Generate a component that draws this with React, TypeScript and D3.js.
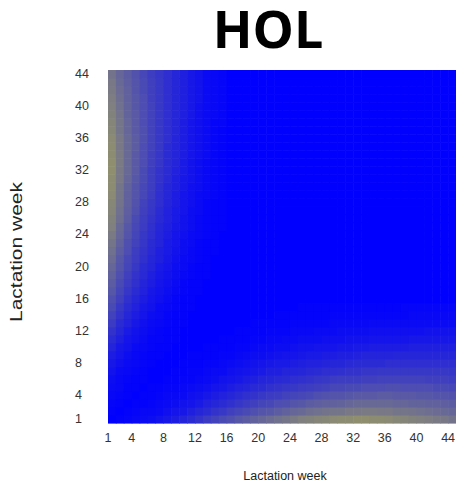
import React from "react";
import * as d3 from "d3";

// Lactation weeks (categories on both axes)
const weeks: number[] = d3.range(1, 45);
const xTickWeeks: number[] = [1, 4, 8, 12, 16, 20, 24, 28, 32, 36, 40, 44];
const yTickWeeks: number[] = [1, 4, 8, 12, 16, 20, 24, 28, 32, 36, 40, 44];

// Symmetric matrix (0 = blue, 100 = yellow).
// Row k holds the values for the pair (early week a = k+1, later week b = a..44).
// Pairs whose earlier week is beyond 15 are all 0 (pure blue).
const row01 = [0,1,2,3,4,5,7,9,11,14,17,20,23,26,29,31,34,36,38,40,42,44,46,48,50,51,52,53,54,55,55,56,56,55,55,54,53,52,51,50,49,48,47,45];
const row02 = [0,1,2,3,3,4,6,8,9,12,15,17,20,22,25,27,29,31,33,34,36,38,40,41,43,44,45,46,46,47,47,48,48,47,47,46,46,45,44,43,42,41,40];
const row03 = [0,1,1,2,3,4,5,7,8,10,13,15,17,19,21,23,25,27,28,30,31,33,34,36,37,38,38,39,40,41,41,41,41,41,40,40,39,39,38,38,37,36];
const row04 = [0,1,1,2,3,3,4,6,7,9,11,13,15,17,19,20,22,23,24,26,27,28,29,31,32,33,33,34,35,35,35,36,36,35,35,35,34,34,33,33,32];
const row05 = [0,1,1,2,2,3,4,5,6,8,9,11,13,14,16,17,19,20,21,22,23,24,25,26,28,28,29,29,30,30,30,31,31,30,30,30,30,29,29,28];
const row06 = [0,0,1,1,2,2,3,4,5,7,8,9,11,12,14,15,16,17,18,19,20,21,22,23,24,24,24,25,25,26,26,26,26,26,26,25,25,25,24];
const row07 = [0,0,1,1,2,2,3,4,4,6,7,8,9,10,12,12,14,14,15,16,17,18,18,19,20,20,21,21,22,22,22,22,22,22,22,22,22,21];
const row08 = [0,0,1,1,1,2,2,3,4,5,6,7,8,9,10,10,11,12,13,13,14,15,15,16,17,17,17,17,18,18,18,18,18,18,18,18,18];
const row09 = [0,0,1,1,1,1,2,2,3,4,5,5,6,7,8,8,9,10,10,11,11,12,12,13,14,14,14,14,15,15,15,15,15,15,15,15];
const row10 = [0,0,0,1,1,1,1,2,2,3,4,4,5,5,6,7,7,8,8,8,9,9,10,10,11,11,11,11,11,12,12,12,12,12,12];
const row11 = [0,0,0,0,1,1,1,1,2,2,3,3,4,4,5,5,5,6,6,6,7,7,7,8,8,8,8,8,9,9,9,9,9,9];
const row12 = [0,0,0,0,0,1,1,1,1,2,2,2,3,3,3,4,4,4,5,5,5,5,6,6,6,6,6,6,6,7,7,7,7];
const row13 = [0,0,0,0,0,0,1,1,1,1,1,2,2,2,2,2,3,3,3,3,3,4,4,4,4,4,4,4,4,4,4,4];
const row14 = [0,0,0,0,0,0,0,0,1,1,1,1,1,1,1,2,2,2,2,2,2,2,2,2,2,3,3,3,3,3,3];
const row15 = [0,0,0,0,0,0,0,0,0,0,1,1,1,1,1,1,1,1,1,1,1,1,1,2,2,2,2,2,2,2];
const earlyRows: number[][] = [row01,row02,row03,row04,row05,row06,row07,row08,row09,row10,row11,row12,row13,row14,row15];

const title = "HOL";
const axisLabel = "Lactation week";

function cellValue(i: number, j: number): number {
  const a = Math.min(i, j);
  const b = Math.max(i, j);
  const row = earlyRows[a - 1];
  if (!row) return 0;
  const v = row[b - a];
  return v === undefined ? 0 : v;
}

export default function App() {
  const W = 456, H = 486;
  const left = 108, right = 456, top = 70, bottom = 423;
  const x = d3.scaleBand<number>().domain(weeks).range([left, right]).padding(0);
  const y = d3.scaleBand<number>().domain(weeks).range([bottom, top]).padding(0);
  const color = d3.scaleLinear<string>().domain([0, 100]).range(["#0000ff", "#ffff00"]).interpolate(d3.interpolateRgb);
  const bw = x.bandwidth();
  const bh = y.bandwidth();

  const cells: { i: number; j: number; v: number }[] = [];
  for (const i of weeks) for (const j of weeks) cells.push({ i, j, v: cellValue(i, j) });

  return (
    <svg width={W} height={H} style={{ position: "absolute", left: 0, top: 0, background: "#fff" }}>
      <rect x={0} y={0} width={W} height={H} fill="#fff" />
      <text x={268} y={48} textAnchor="middle" fontFamily="'Open Sans', 'Noto Sans', sans-serif" fontWeight={700} fontSize={52} fill="#000">{title}</text>
      <g>
        {cells.map((c) => (
          <rect key={`${c.i}-${c.j}`} x={x(c.i)!} y={y(c.j)!} width={bw + 0.6} height={bh + 0.6} fill={color(c.v)} />
        ))}
      </g>
      <g fontFamily="'Liberation Sans', Arial, sans-serif" fontSize={12.5} fill="#333">
        {xTickWeeks.map((w) => (
          <text key={`xt${w}`} x={x(w)!} y={442} textAnchor="middle">{w}</text>
        ))}
        {yTickWeeks.map((w) => (
          <text key={`yt${w}`} x={75} y={y(w)! + bh / 2 + 4} textAnchor="start">{w}</text>
        ))}
      </g>
      <text x={285} y={480} textAnchor="middle" fontFamily="'Liberation Sans', Arial, sans-serif" fontSize={12.5} fill="#222">{axisLabel}</text>
      <text transform="translate(22,252) rotate(-90)" textAnchor="middle" fontFamily="'Liberation Sans', Arial, sans-serif" fontSize={17} fill="#222" textLength={140} lengthAdjust="spacingAndGlyphs">{axisLabel}</text>
    </svg>
  );
}
